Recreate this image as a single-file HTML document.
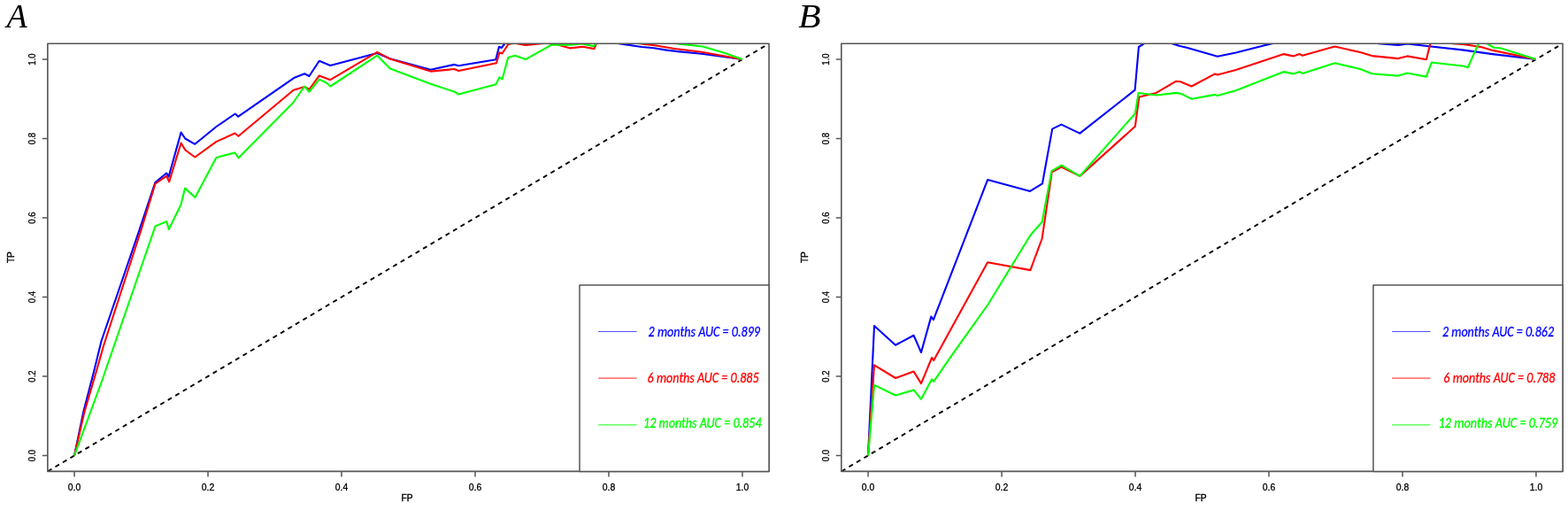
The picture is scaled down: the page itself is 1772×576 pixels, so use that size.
<!DOCTYPE html>
<html><head><meta charset="utf-8"><title>ROC curves</title>
<style>
html,body{margin:0;padding:0;background:#fff;}
body{width:1772px;height:576px;overflow:hidden;}
svg{display:block;}
.tl{font-family:"Liberation Sans",Arial,sans-serif;font-size:10.4px;fill:#000;stroke:#000;stroke-width:0.3px;}
.at{font-size:10.2px;stroke-width:0.4px;}
.lg{font-family:Carlito,"Liberation Sans Narrow","Liberation Sans",sans-serif;font-style:italic;font-size:16.5px;}
.pl{font-family:"Liberation Serif","Times New Roman",serif;font-style:italic;font-size:38px;fill:#000;}
</style></head><body>
<svg width="1772" height="576" viewBox="0 0 1772 576">
<rect x="0" y="0" width="1772" height="576" fill="#fff"/>
<clipPath id="clipA"><rect x="53.85" y="49.20" width="815.20" height="483.20"/></clipPath>
<text class="pl" x="0" y="30.7" transform="translate(7.60 0) scale(1.0 1)">A</text>
<text class="tl" x="84.05" y="554" text-anchor="middle">0.0</text>
<text class="tl" transform="translate(40.15 514.50) rotate(-90)" text-anchor="middle" textLength="13.3" lengthAdjust="spacingAndGlyphs">0.0</text>
<text class="tl" x="235.03" y="554" text-anchor="middle">0.2</text>
<text class="tl" transform="translate(40.15 425.01) rotate(-90)" text-anchor="middle" textLength="13.3" lengthAdjust="spacingAndGlyphs">0.2</text>
<text class="tl" x="386.01" y="554" text-anchor="middle">0.4</text>
<text class="tl" transform="translate(40.15 335.52) rotate(-90)" text-anchor="middle" textLength="13.3" lengthAdjust="spacingAndGlyphs">0.4</text>
<text class="tl" x="536.99" y="554" text-anchor="middle">0.6</text>
<text class="tl" transform="translate(40.15 246.03) rotate(-90)" text-anchor="middle" textLength="13.3" lengthAdjust="spacingAndGlyphs">0.6</text>
<text class="tl" x="687.97" y="554" text-anchor="middle">0.8</text>
<text class="tl" transform="translate(40.15 156.54) rotate(-90)" text-anchor="middle" textLength="13.3" lengthAdjust="spacingAndGlyphs">0.8</text>
<text class="tl" x="838.95" y="554" text-anchor="middle">1.0</text>
<text class="tl" transform="translate(40.15 67.05) rotate(-90)" text-anchor="middle" textLength="13.3" lengthAdjust="spacingAndGlyphs">1.0</text>
<path d="M84.05 532.40V538.40M53.85 514.50H47.85M235.03 532.40V538.40M53.85 425.01H47.85M386.01 532.40V538.40M53.85 335.52H47.85M536.99 532.40V538.40M53.85 246.03H47.85M687.97 532.40V538.40M53.85 156.54H47.85M838.95 532.40V538.40M53.85 67.05H47.85" stroke="#555" stroke-width="1.5" fill="none"/>
<text class="tl at" x="460.05" y="566.0" text-anchor="middle">FP</text>
<text class="tl at" transform="translate(15.95 290.6) rotate(-90)" text-anchor="middle">TP</text>
<g clip-path="url(#clipA)">
<line x1="53.85" y1="532.40" x2="869.05" y2="49.20" stroke="#000" stroke-width="1.9" stroke-dasharray="5.1 4.76" stroke-dashoffset="-0.2"/>
<polyline points="84.05,514.50 94.30,465.00 106.00,420.00 114.60,385.00 157.40,260.00 175.40,206.10 188.20,195.50 190.60,199.60 204.60,149.50 209.30,156.50 220.30,162.80 244.50,143.00 265.80,128.50 269.20,131.70 332.10,88.10 344.20,83.30 349.40,86.00 360.80,68.75 373.30,74.00 426.20,60.00 440.80,66.30 486.60,78.70 513.40,72.90 518.30,74.30 560.30,67.30 564.00,52.80 566.80,54.00 571.00,48.50 580.00,46.00 690.00,46.00 699.20,49.10 725.10,53.00 738.70,54.20 753.40,56.60 765.80,58.10 792.90,60.70 838.95,67.05" fill="none" stroke="#0000ff" stroke-width="2.1" stroke-linejoin="round"/>
<polyline points="84.05,514.50 95.50,465.00 108.70,420.00 117.20,390.00 159.40,260.00 175.50,207.50 188.20,198.90 191.20,205.30 204.60,161.50 209.40,169.50 220.30,177.50 244.60,159.90 265.60,150.50 269.40,153.80 331.70,101.70 344.20,97.90 349.40,101.00 360.80,85.40 373.30,90.20 426.30,58.90 440.80,66.60 486.60,80.60 513.40,78.00 518.30,80.00 561.00,71.25 564.50,59.30 567.50,60.50 574.40,50.00 581.50,48.60 593.70,51.00 617.40,48.60 631.00,50.80 644.50,54.40 658.60,52.80 671.50,55.10 674.40,48.50 680.00,46.00 715.00,46.00 722.90,49.10 743.20,51.70 764.60,55.30 792.90,58.70 838.95,67.05" fill="none" stroke="#ff0000" stroke-width="2.1" stroke-linejoin="round"/>
<polyline points="84.05,514.50 114.80,431.25 175.50,255.50 188.20,250.10 190.90,258.90 204.40,231.20 209.10,212.60 220.50,223.00 244.40,178.00 265.40,172.40 269.60,178.30 331.00,116.25 344.20,97.50 349.40,103.75 360.80,89.60 369.20,93.75 373.30,97.50 426.30,62.70 440.90,77.60 486.60,94.80 513.40,103.60 518.30,106.50 560.50,95.30 564.50,87.30 567.60,89.50 574.20,65.00 582.00,62.80 593.90,67.10 623.30,50.60 644.50,50.80 658.00,49.40 671.00,52.20 674.30,48.50 680.00,46.00 755.00,46.00 763.50,49.10 794.00,52.50 821.00,60.50 838.95,67.05" fill="none" stroke="#00ff00" stroke-width="2.1" stroke-linejoin="round"/>
</g>
<rect x="53.85" y="49.20" width="815.20" height="483.20" fill="none" stroke="#555" stroke-width="1.6" stroke-linejoin="round"/>
<rect x="655.00" y="322" width="214.05" height="210.40" fill="#fff" stroke="#555" stroke-width="1.5" stroke-linejoin="round"/>
<line x1="676.20" y1="374.50" x2="719.60" y2="374.50" stroke="#0000ff" stroke-width="1.0" opacity="0.68"/>
<text class="lg" x="795.80" y="380.00" text-anchor="middle" textLength="126.40" lengthAdjust="spacingAndGlyphs" fill="#0000ff" stroke="#0000ff" stroke-width="0.3">2 months AUC = 0.899</text>
<line x1="676.20" y1="427.05" x2="719.60" y2="427.05" stroke="#ff0000" stroke-width="1.15" opacity="0.72"/>
<text class="lg" x="794.60" y="431.50" text-anchor="middle" textLength="126.00" lengthAdjust="spacingAndGlyphs" fill="#ff0000" stroke="#ff0000" stroke-width="0.3">6 months AUC = 0.885</text>
<line x1="676.20" y1="479.85" x2="719.60" y2="479.85" stroke="#00ff00" stroke-width="1.1" opacity="0.75"/>
<text class="lg" x="793.80" y="483.00" text-anchor="middle" textLength="133.60" lengthAdjust="spacingAndGlyphs" fill="#00ff00" stroke="#00ff00" stroke-width="0.3">12 months AUC = 0.854</text>
<clipPath id="clipB"><rect x="950.80" y="49.20" width="815.20" height="483.20"/></clipPath>
<text class="pl" x="0" y="30.7" transform="translate(902.30 0) scale(1.09 1)">B</text>
<text class="tl" x="981.05" y="554" text-anchor="middle">0.0</text>
<text class="tl" transform="translate(937.10 514.50) rotate(-90)" text-anchor="middle" textLength="13.3" lengthAdjust="spacingAndGlyphs">0.0</text>
<text class="tl" x="1132.03" y="554" text-anchor="middle">0.2</text>
<text class="tl" transform="translate(937.10 425.01) rotate(-90)" text-anchor="middle" textLength="13.3" lengthAdjust="spacingAndGlyphs">0.2</text>
<text class="tl" x="1283.01" y="554" text-anchor="middle">0.4</text>
<text class="tl" transform="translate(937.10 335.52) rotate(-90)" text-anchor="middle" textLength="13.3" lengthAdjust="spacingAndGlyphs">0.4</text>
<text class="tl" x="1433.99" y="554" text-anchor="middle">0.6</text>
<text class="tl" transform="translate(937.10 246.03) rotate(-90)" text-anchor="middle" textLength="13.3" lengthAdjust="spacingAndGlyphs">0.6</text>
<text class="tl" x="1584.97" y="554" text-anchor="middle">0.8</text>
<text class="tl" transform="translate(937.10 156.54) rotate(-90)" text-anchor="middle" textLength="13.3" lengthAdjust="spacingAndGlyphs">0.8</text>
<text class="tl" x="1735.95" y="554" text-anchor="middle">1.0</text>
<text class="tl" transform="translate(937.10 67.05) rotate(-90)" text-anchor="middle" textLength="13.3" lengthAdjust="spacingAndGlyphs">1.0</text>
<path d="M981.05 532.40V538.40M950.80 514.50H944.80M1132.03 532.40V538.40M950.80 425.01H944.80M1283.01 532.40V538.40M950.80 335.52H944.80M1433.99 532.40V538.40M950.80 246.03H944.80M1584.97 532.40V538.40M950.80 156.54H944.80M1735.95 532.40V538.40M950.80 67.05H944.80" stroke="#555" stroke-width="1.5" fill="none"/>
<text class="tl at" x="1357.00" y="566.0" text-anchor="middle">FP</text>
<text class="tl at" transform="translate(912.90 290.6) rotate(-90)" text-anchor="middle">TP</text>
<g clip-path="url(#clipB)">
<line x1="950.80" y1="532.40" x2="1766.00" y2="49.20" stroke="#000" stroke-width="1.9" stroke-dasharray="5.1 4.76" stroke-dashoffset="-0.2"/>
<polyline points="981.05,514.50 988.00,368.00 1012.00,389.70 1032.60,378.80 1041.00,398.00 1052.30,357.60 1054.90,361.10 1116.10,203.10 1164.10,215.90 1178.00,207.30 1189.20,145.60 1199.40,140.60 1220.30,150.60 1282.60,101.70 1286.90,53.00 1294.00,48.50 1300.00,46.00 1318.00,46.00 1324.60,49.30 1332.50,51.70 1341.90,54.10 1375.90,63.75 1396.60,59.50 1430.00,50.90 1441.10,48.50 1450.00,46.00 1550.00,46.00 1557.50,49.10 1580.20,50.90 1590.30,49.40 1610.30,51.70 1652.50,56.40 1686.90,61.10 1735.95,67.05" fill="none" stroke="#0000ff" stroke-width="2.1" stroke-linejoin="round"/>
<polyline points="981.05,514.50 988.00,412.30 1012.00,427.00 1032.60,419.60 1041.00,433.10 1053.10,404.00 1055.20,407.10 1116.10,296.20 1164.40,305.10 1177.60,269.50 1188.80,194.20 1199.50,188.60 1220.30,198.90 1282.80,142.80 1287.30,109.50 1306.60,104.90 1329.20,91.70 1334.00,92.30 1346.60,97.50 1373.10,83.40 1375.90,84.50 1396.60,79.10 1450.90,61.10 1461.40,63.40 1468.75,61.10 1471.90,62.70 1508.30,52.50 1537.20,59.10 1550.50,63.10 1580.20,66.10 1590.30,63.40 1611.90,67.30 1616.60,48.50 1622.00,46.00 1635.00,46.00 1641.60,49.10 1655.60,50.20 1674.40,53.30 1686.90,56.90 1735.95,67.05" fill="none" stroke="#ff0000" stroke-width="2.1" stroke-linejoin="round"/>
<polyline points="981.05,514.50 988.00,434.90 1012.00,446.50 1032.60,440.40 1041.00,450.80 1053.10,428.30 1055.20,430.90 1075.00,402.20 1116.60,343.75 1164.70,265.30 1177.60,250.70 1188.50,193.10 1199.50,186.70 1220.30,198.90 1282.80,128.30 1286.60,105.00 1307.20,107.50 1329.20,104.90 1334.80,105.90 1346.60,111.80 1373.10,106.90 1375.90,108.00 1396.60,102.20 1450.90,81.10 1461.40,83.40 1468.75,81.10 1471.90,83.00 1508.30,71.25 1537.20,78.00 1550.50,83.30 1580.20,85.60 1590.30,82.50 1611.90,86.60 1617.80,70.50 1654.80,74.70 1658.75,76.25 1671.25,48.50 1676.00,46.00 1680.60,49.40 1688.40,53.75 1696.25,54.50 1735.95,67.05" fill="none" stroke="#00ff00" stroke-width="2.1" stroke-linejoin="round"/>
</g>
<rect x="950.80" y="49.20" width="815.20" height="483.20" fill="none" stroke="#555" stroke-width="1.6" stroke-linejoin="round"/>
<rect x="1551.95" y="322" width="214.05" height="210.40" fill="#fff" stroke="#555" stroke-width="1.5" stroke-linejoin="round"/>
<line x1="1573.15" y1="374.50" x2="1616.55" y2="374.50" stroke="#0000ff" stroke-width="1.0" opacity="0.68"/>
<text class="lg" x="1693.00" y="380.00" text-anchor="middle" textLength="126.20" lengthAdjust="spacingAndGlyphs" fill="#0000ff" stroke="#0000ff" stroke-width="0.3">2 months AUC = 0.862</text>
<line x1="1573.15" y1="427.05" x2="1616.55" y2="427.05" stroke="#ff0000" stroke-width="1.15" opacity="0.72"/>
<text class="lg" x="1694.35" y="431.50" text-anchor="middle" textLength="126.00" lengthAdjust="spacingAndGlyphs" fill="#ff0000" stroke="#ff0000" stroke-width="0.3">6 months AUC = 0.788</text>
<line x1="1573.15" y1="479.85" x2="1616.55" y2="479.85" stroke="#00ff00" stroke-width="1.1" opacity="0.75"/>
<text class="lg" x="1692.90" y="483.00" text-anchor="middle" textLength="134.80" lengthAdjust="spacingAndGlyphs" fill="#00ff00" stroke="#00ff00" stroke-width="0.3">12 months AUC = 0.759</text>
</svg>
</body></html>
